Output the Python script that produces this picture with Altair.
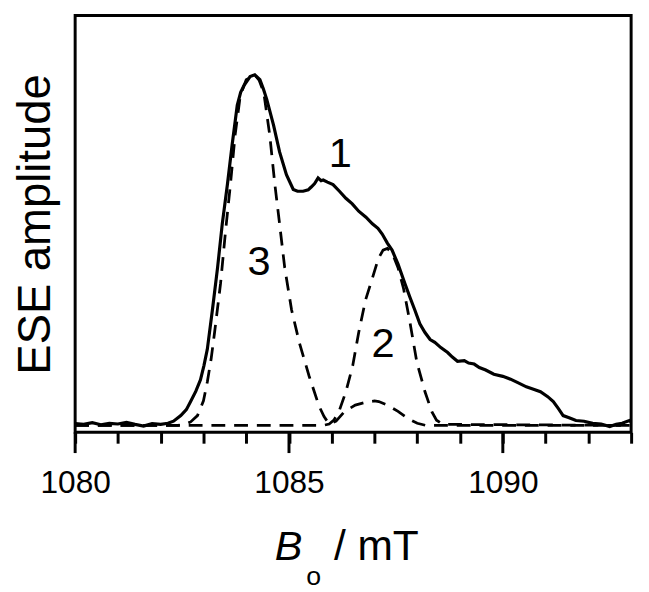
import altair as alt
import pandas as pd

# ---- data ----
solid_B = [1080.0, 1080.2, 1080.4, 1080.6, 1080.8, 1081.0, 1081.2, 1081.4, 1081.6, 1081.8,
           1082.0, 1082.17, 1082.3, 1082.47, 1082.6, 1082.7, 1082.82, 1082.93, 1083.01, 1083.09,
           1083.21, 1083.33, 1083.44, 1083.56, 1083.67, 1083.79, 1083.87, 1083.95, 1084.09, 1084.2,
           1084.32, 1084.4, 1084.48, 1084.64, 1084.78, 1084.94, 1085.1, 1085.2, 1085.33, 1085.45,
           1085.52, 1085.6, 1085.68, 1085.75, 1085.8, 1085.9, 1086.03, 1086.18, 1086.33, 1086.48,
           1086.63, 1086.8, 1086.95, 1087.08, 1087.18, 1087.3, 1087.41, 1087.55, 1087.71, 1087.83,
           1087.94, 1088.06, 1088.18, 1088.3, 1088.41, 1088.55, 1088.71, 1088.82, 1088.94, 1089.1,
           1089.2, 1089.33, 1089.45, 1089.6, 1089.79, 1090.0, 1090.18, 1090.35, 1090.55, 1090.7,
           1090.88, 1091.05, 1091.18, 1091.3, 1091.41, 1091.55, 1091.71, 1091.9, 1092.1, 1092.3,
           1092.5, 1092.65, 1092.79, 1092.96, 1093.0]
solid_A = [0.005, 0.003, 0.008, 0.002, 0.006, 0.004, 0.009, 0.003, -0.002, 0.005,
           0.003, 0.006, 0.012, 0.028, 0.045, 0.068, 0.097, 0.13, 0.17, 0.217,
           0.33, 0.45, 0.575, 0.687, 0.80, 0.913, 0.95, 0.97, 0.995, 1.0,
           0.986, 0.96, 0.93, 0.856, 0.78, 0.715, 0.673, 0.668, 0.668, 0.672,
           0.68, 0.69, 0.706, 0.698, 0.70, 0.694, 0.687, 0.668, 0.648, 0.632,
           0.611, 0.594, 0.575, 0.562, 0.546, 0.52, 0.50, 0.46, 0.405, 0.365,
           0.33, 0.29, 0.265, 0.245, 0.237, 0.222, 0.208, 0.195, 0.183, 0.185,
           0.178, 0.175, 0.165, 0.158, 0.146, 0.14, 0.132, 0.122, 0.11, 0.104,
           0.096, 0.082, 0.068, 0.048, 0.028, 0.022, 0.014, 0.012, 0.006, 0.004,
           -0.003, 0.003, 0.006, 0.014, 0.01]

c3_B = [1080.0, 1082.4, 1082.56, 1082.7, 1082.86, 1083.0, 1083.09, 1083.18, 1083.26, 1083.4,
        1083.51, 1083.63, 1083.74, 1083.86, 1084.0, 1084.2, 1084.3, 1084.41, 1084.55, 1084.67,
        1084.78, 1084.9, 1085.06, 1085.24, 1085.47, 1085.7, 1085.82, 1085.94, 1086.1, 1086.3,
        1086.55, 1086.8, 1087.0, 1087.1, 1087.3, 1087.55, 1087.8, 1088.0, 1088.2, 1093.0]
c3_A = [0.0, 0.0, 0.003, 0.01, 0.028, 0.07, 0.124, 0.19, 0.265, 0.405,
        0.546, 0.687, 0.828, 0.94, 0.986, 1.0, 0.985, 0.95, 0.828, 0.687,
        0.575, 0.45, 0.33, 0.237, 0.141, 0.056, 0.025, 0.004, 0.012, 0.04,
        0.058, 0.066, 0.07, 0.068, 0.058, 0.04, 0.018, 0.006, 0.0, 0.0]

c2_B = [1080.0, 1085.8, 1085.94, 1086.05, 1086.17, 1086.33, 1086.49, 1086.63, 1086.79, 1086.95,
        1087.09, 1087.2, 1087.3, 1087.42, 1087.55, 1087.68, 1087.83, 1087.99, 1088.18, 1088.34,
        1088.45, 1088.6, 1093.0]
c2_A = [0.0, 0.0, 0.004, 0.015, 0.04, 0.096, 0.17, 0.265, 0.358, 0.42,
        0.476, 0.5, 0.505, 0.49, 0.45, 0.39, 0.293, 0.18, 0.096, 0.039,
        0.015, 0.003, 0.0]

label_text = ["1", "2", "3"]
label_B = [1086.2, 1087.2, 1084.3]
label_A = [0.775, 0.231, 0.465]

x_ticks = list(range(1080, 1094))
x_major = [1080, 1085, 1090]

FONT = "Liberation Sans"

solid = pd.DataFrame({"B": solid_B, "A": solid_A, "s": "1"})
dashed = pd.concat([
    pd.DataFrame({"B": c3_B, "A": c3_A, "s": "3"}),
    pd.DataFrame({"B": c2_B, "A": c2_A, "s": "2"}),
])
labels = pd.DataFrame({"t": label_text, "B": label_B, "A": label_A})
majors = pd.DataFrame({"B": x_major})

xscale = alt.Scale(domain=[1080, 1093], nice=False, zero=False)
yscale = alt.Scale(domain=[-0.0197, 1.169], nice=False, zero=False)

xaxis = alt.Axis(
    values=x_ticks,
    labelExpr="datum.value % 5 === 0 ? datum.label : ''",
    format="d",
    title=None,
    grid=False,
    domain=False,
    ticks=True,
    tickColor="black",
    tickWidth=3,
    tickSize=11,
    labelFont=FONT,
    labelFontSize=32,
    labelColor="black",
    labelPadding=25,
    labelFlush=False,
    labelOverlap=False,
)
yaxis = alt.Axis(
    title="ESE amplitude",
    titleFont=FONT,
    titleFontSize=46,
    titleFontWeight="normal",
    titleColor="black",
    titlePadding=16,
    labels=False,
    ticks=False,
    domain=False,
    grid=False,
)

solid_line = alt.Chart(solid).mark_line(color="black", strokeWidth=3.2, clip=True).encode(
    x=alt.X("B:Q", scale=xscale, axis=xaxis),
    y=alt.Y("A:Q", scale=yscale, axis=yaxis),
    detail="s:N", order="B:Q"
)
dashed_line = alt.Chart(dashed).mark_line(
    color="black", strokeWidth=2.8, strokeDash=[14, 9], clip=True
).encode(
    x=alt.X("B:Q", scale=xscale), y=alt.Y("A:Q", scale=yscale), detail="s:N", order="B:Q"
)
major_ticks = alt.Chart(majors).mark_rule(color="black", strokeWidth=3).encode(
    x=alt.X("B:Q", scale=xscale), y=alt.value(422), y2=alt.value(443)
)
num_labels = alt.Chart(labels).mark_text(
    font=FONT, fontSize=42, color="black", align="center", baseline="middle"
).encode(x=alt.X("B:Q", scale=xscale), y=alt.Y("A:Q", scale=yscale), text="t:N")

tB = alt.Chart(pd.DataFrame({"t": ["B"]})).mark_text(
    font=FONT, fontSize=42, fontStyle="italic", color="black", align="left", baseline="alphabetic"
).encode(x=alt.value(202), y=alt.value(551), text="t:N")
to = alt.Chart(pd.DataFrame({"t": ["o"]})).mark_text(
    font=FONT, fontSize=27, color="black", align="left", baseline="alphabetic"
).encode(x=alt.value(234), y=alt.value(577), text="t:N")
tm = alt.Chart(pd.DataFrame({"t": ["/ mT"]})).mark_text(
    font=FONT, fontSize=43, color="black", align="left", baseline="alphabetic"
).encode(x=alt.value(262), y=alt.value(551), text="t:N")

chart = alt.layer(solid_line, dashed_line, major_ticks, num_labels, tB, to, tm).properties(
    width=563,
    height=422,
    autosize=alt.AutoSizeParams(type="none"),
    padding={"left": 68, "top": 4, "right": 10, "bottom": 158},
).configure_view(stroke="black", strokeWidth=3)

chart.save("out.html", embed_options={"renderer": "svg", "actions": False})
